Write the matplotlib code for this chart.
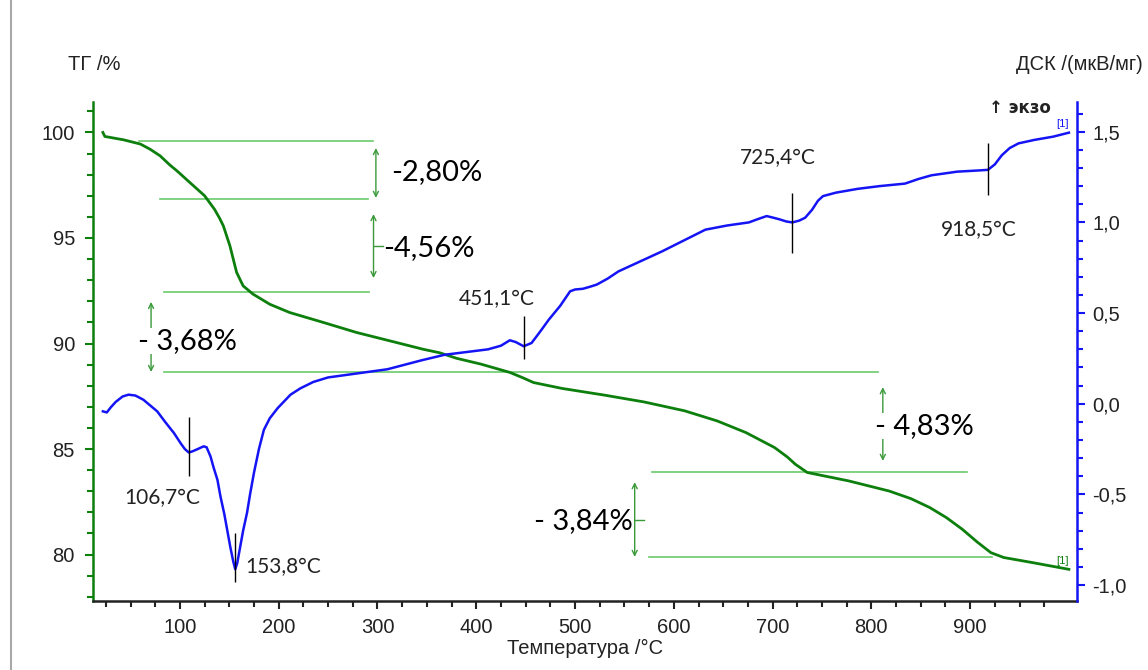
import matplotlib
matplotlib.use("Agg")
import matplotlib.pyplot as plt
from matplotlib.lines import Line2D
from matplotlib.ticker import MultipleLocator, FixedLocator, FuncFormatter

# ТГ (%) по температуре
tg_T = [22, 24, 43, 60, 70, 80, 90, 97, 110, 125, 135, 140, 144, 150.6, 154, 157.4,
        164, 174, 191, 211, 245, 279, 313, 346, 363, 380, 405, 434, 446, 458, 487,
        529, 570, 611, 644, 673, 702, 715, 723, 735, 777, 818, 840, 859, 876, 892,
        907, 921, 934, 963, 1000]
tg = [100.0, 99.81, 99.65, 99.45, 99.2, 98.89, 98.45, 98.18, 97.63, 97.0, 96.36, 95.95,
      95.57, 94.63, 94.0, 93.37, 92.73, 92.34, 91.86, 91.47, 91.0, 90.52, 90.12, 89.73,
      89.56, 89.30, 89.02, 88.63, 88.4, 88.15, 87.87, 87.56, 87.23, 86.81, 86.33, 85.78,
      85.07, 84.62, 84.28, 83.89, 83.49, 83.01, 82.65, 82.23, 81.75, 81.2, 80.6, 80.09,
      79.86, 79.62, 79.3]

# ДСК (мкВ/мг)
dsc_T = [22, 26, 30, 35, 42, 48, 55, 63, 70, 77, 85, 94, 101, 105, 109, 113, 118, 124,
         127, 131, 134, 138, 141, 145, 148, 151, 154, 156, 158, 161, 164, 168, 171, 175,
         180, 185, 191, 199, 212, 222, 235, 250, 270, 290, 310, 324, 345, 368, 390, 412,
         425, 434, 440, 448, 456, 465, 473.5, 485, 495, 500, 508, 515, 522, 533, 544,
         566, 588, 610, 632, 654, 676, 686, 694, 700, 707, 714, 720, 727, 733, 740, 746,
         751, 764, 786, 808, 834, 848, 861, 887, 910, 918, 925, 932, 940, 949, 965, 984,
         1000]
dsc = [-0.042, -0.048, -0.02, 0.01, 0.04, 0.05, 0.045, 0.022, -0.01, -0.042, -0.10,
       -0.162, -0.22, -0.25, -0.269, -0.262, -0.25, -0.235, -0.24, -0.291, -0.35, -0.42,
       -0.51, -0.61, -0.70, -0.79, -0.87, -0.913, -0.88, -0.79, -0.70, -0.60, -0.50,
       -0.38, -0.25, -0.144, -0.08, -0.024, 0.05, 0.085, 0.12, 0.145, 0.16, 0.175, 0.19,
       0.21, 0.24, 0.27, 0.285, 0.30, 0.32, 0.35, 0.34, 0.317, 0.335, 0.40, 0.464, 0.54,
       0.62, 0.63, 0.634, 0.645, 0.657, 0.69, 0.73, 0.785, 0.84, 0.90, 0.96, 0.983, 1.0,
       1.02, 1.035, 1.027, 1.017, 1.005, 1.0, 1.01, 1.026, 1.07, 1.12, 1.145, 1.164,
       1.185, 1.20, 1.214, 1.24, 1.26, 1.28, 1.287, 1.29, 1.32, 1.37, 1.41, 1.436,
       1.455, 1.473, 1.495]

# пики ДСК
peak_T = [108.9, 156, 448.4, 720, 918]
peak_lo = [-0.396, -0.982, 0.247, 0.833, 1.149]
peak_hi = [-0.072, -0.713, 0.486, 1.164, 1.436]
peak_lbl = ["106,7°C", "153,8°C", "451,1°C", "725,4°C", "918,5°C"]

# ступени потери массы
step_lvl = [99.58, 96.84, 92.46, 88.63, 83.9, 79.89]
step_x0 = [59, 80, 84, 84, 578, 575]
step_x1 = [295, 290, 291, 807, 897, 922]
step_lbl = ["-2,80%", "-4,56%", "- 3,68%", "- 4,83%", "- 3,84%"]

x_major = [100, 200, 300, 400, 500, 600, 700, 800, 900]
x_minor = [25 * i for i in range(1, 40)]

green = "#0d7f0d"
blue = "#1414f5"
lgreen = "#6ccb6c"
agreen = "#3a9a3a"
tcol = "#222222"
ann_font = ["Lato", "DejaVu Sans"]

plt.rcParams["font.family"] = ["Liberation Sans", "DejaVu Sans"]

fig = plt.figure(figsize=(11.48, 6.7), dpi=100)
ax = fig.add_axes([0.081, 0.103, 0.857, 0.745])
ax2 = ax.twinx()

ax.plot(tg_T, tg, color=green, lw=2.0, zorder=3)
ax2.plot(dsc_T, dsc, color=blue, lw=1.8, zorder=3)

ax.set_xlim(12, 1008)
ax.set_ylim(77.8, 101.45)
ax2.set_ylim(-1.088, 1.665)

# горизонтальные линии ступеней
for lv, a, b in zip(step_lvl, step_x0, step_x1):
    ax.plot([a, b], [lv, lv], color=lgreen, lw=1.2, zorder=2)

arrow_kw = dict(arrowstyle="<->", color=agreen, lw=1.0, shrinkA=0, shrinkB=0,
                mutation_scale=9)
arrows = [(298.4, 99.26, 96.9), (296, 96.13, 93.1), (70.8, 91.97, 88.65),
          (811.6, 87.93, 84.44), (560.4, 83.43, 79.89)]
for x, y1, y2 in arrows:
    ax.annotate("", xy=(x, y2), xytext=(x, y1), arrowprops=arrow_kw, zorder=2)
ax.plot([296, 305.6], [94.63, 94.63], color=agreen, lw=1.0)
ax.plot([560.4, 569.5], [81.64, 81.64], color=agreen, lw=1.0)

box = dict(facecolor="white", edgecolor="none", pad=0)
ax.text(313.7, 98.1, step_lbl[0], fontsize=21, family=ann_font, color="black",
        ha="left", va="center")
ax.text(305.6, 94.53, step_lbl[1], fontsize=21, family=ann_font, color="black",
        ha="left", va="center")
ax.text(57.9, 90.12, step_lbl[2], fontsize=21, family=ann_font, color="black",
        ha="left", va="center", bbox=box, zorder=4)
ax.text(803.6, 86.1, step_lbl[3], fontsize=21, family=ann_font, color="black",
        ha="left", va="center", bbox=box, zorder=4)
ax.text(558.4, 81.6, step_lbl[4], fontsize=21, family=ann_font, color="black",
        ha="right", va="center")

# метки пиков
ax2.vlines(peak_T, peak_lo, peak_hi, color="black", lw=1.0, zorder=4)
lbl_pos = [(82, -0.52, "center"), (166.5, -0.90, "left"), (420.7, 0.575, "center"),
           (705.6, 1.352, "center"), (909, 0.956, "center")]
for (x, y, ha), s in zip(lbl_pos, peak_lbl):
    ax2.text(x, y, s, fontsize=15, family=ann_font, color=tcol, ha=ha, va="center")

ax2.text(918.8, 1.63, "↑ экзо", fontsize=12, fontweight="bold", color=tcol,
         ha="left", va="center", family=["DejaVu Sans"])
ax2.text(993.5, 1.545, "[1]", fontsize=8, color=blue, ha="center", va="center")
ax.text(993.5, 79.7, "[1]", fontsize=8, color=green, ha="center", va="center")

# оси
for a in (ax, ax2):
    a.spines["top"].set_visible(False)
ax.spines["right"].set_visible(False)
ax2.spines["left"].set_visible(False)
ax2.spines["bottom"].set_visible(False)
ax.spines["left"].set_color(green)
ax.spines["left"].set_linewidth(1.8)
ax2.spines["right"].set_color(blue)
ax2.spines["right"].set_linewidth(1.8)
ax.spines["bottom"].set_color("#222222")
ax.spines["bottom"].set_linewidth(1.8)

ax.xaxis.set_major_locator(FixedLocator(x_major))
ax.xaxis.set_minor_locator(FixedLocator(x_minor))
ax.yaxis.set_major_locator(MultipleLocator(5))
ax.yaxis.set_minor_locator(MultipleLocator(1))
ax2.yaxis.set_major_locator(MultipleLocator(0.5))
ax2.yaxis.set_minor_locator(MultipleLocator(0.1))
ax2.yaxis.set_major_formatter(FuncFormatter(lambda v, p: f"{v:.1f}".replace(".", ",")))

ax.tick_params(axis="x", which="major", length=6, width=1.5, color="#222222",
               labelcolor=tcol, labelsize=14.5, pad=6)
ax.tick_params(axis="x", which="minor", length=4, width=1.5, color="#222222")
ax.tick_params(axis="y", which="major", length=6, width=1.5, color=green,
               labelcolor=tcol, labelsize=14.5, pad=7)
ax.tick_params(axis="y", which="minor", length=4, width=1.5, color=green)
ax2.tick_params(axis="y", which="major", length=6, width=1.5, color=blue,
                labelcolor=tcol, labelsize=14.5, pad=5)
ax2.tick_params(axis="y", which="minor", length=4, width=1.5, color=blue)

ax.set_xlabel("Температура /°C", fontsize=14.5, color=tcol, labelpad=2)
fig.text(68 / 1148, 1 - 64 / 670, "ТГ /%", fontsize=14.5, color=tcol, ha="left", va="center")
fig.text(1143 / 1148, 1 - 65 / 670, "ДСК /(мкВ/мг)", fontsize=14.5, color=tcol,
         ha="right", va="center")

fig.add_artist(Line2D([0.0095, 0.0095], [0, 1], color="#a8a8a8", lw=1.5))

fig.savefig("out.png", dpi=100)
